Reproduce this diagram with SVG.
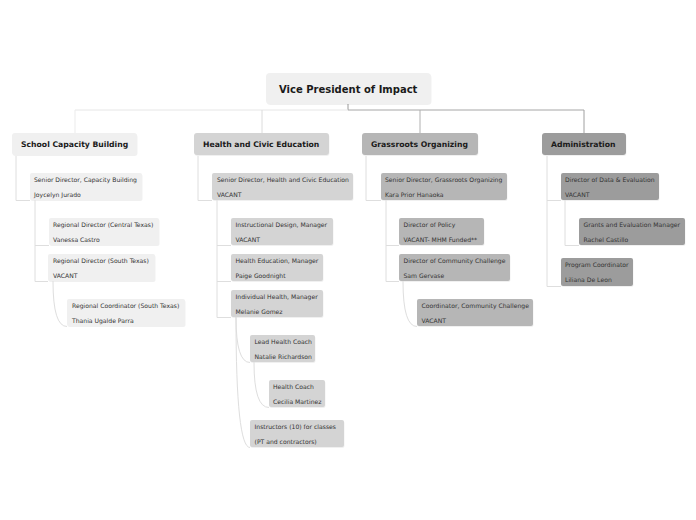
<svg xmlns="http://www.w3.org/2000/svg" width="696" height="520" viewBox="0 0 696 520">
<style>
.t{font-family:"DejaVu Sans","Liberation Sans",sans-serif;font-size:6.1px;fill:#333}
.b{font-family:"DejaVu Sans","Liberation Sans",sans-serif;font-weight:bold;font-size:7.7px;fill:#1a1a1a}
.r{font-family:"DejaVu Sans","Liberation Sans",sans-serif;font-weight:bold;font-size:10px;fill:#1a1a1a}
.c{fill:none;stroke:#dedede;stroke-width:1}
.sh{fill:#000;fill-opacity:0.06}
.l0{fill:#f0f0f0}
.l1{fill:#d4d4d4}
.l2{fill:#b6b6b6}
.l3{fill:#9c9c9c}
</style>
<rect width="696" height="520" fill="#ffffff"/>
<g id="connectors">
<path d="M348,104V110" fill="none" stroke="#9a9a9a"/>
<path d="M75,110H348" fill="none" stroke="#e6e6e6"/>
<path d="M348,110H584" fill="none" stroke="#a6a6a6"/>
<path d="M75,110V133" fill="none" stroke="#ebebeb"/>
<path d="M262,110V133" fill="none" stroke="#dcdcdc"/>
<path d="M420,110V133" fill="none" stroke="#b0b0b0"/>
<path d="M584,110V133" fill="none" stroke="#a0a0a0"/>
<path class="c" d="M16,156V200.5H30"/>
<path class="c" d="M35,200.5V281.5H48M35,245.5H49"/>
<path class="c" d="M53,281.5Q53,326.5 67,326.5"/>
<path class="c" d="M198,156V200.5H212"/>
<path class="c" d="M217,200.5V317.5H231M217,245.5H231M217,281.5H231"/>
<path class="c" d="M236,317.5Q236,362.5 250,362.5"/>
<path class="c" d="M236,317.5Q236,447.5 250,447.5"/>
<path class="c" d="M254,362.5Q254,407.5 269,407.5"/>
<path class="c" d="M366,156V200.5H381"/>
<path class="c" d="M386,200.5V281.5H399M386,245.5H399"/>
<path class="c" d="M403,281.5Q403,326.5 417,326.5"/>
<path class="c" d="M547,156V286.5H561M547,200.5H561"/>
<path class="c" d="M565,200.5V245.5H579"/>
</g>
<g id="root">
<rect class="sh" x="266.5" y="74" width="165" height="31" rx="4"/>
<rect class="l0" x="266" y="73" width="165" height="31" rx="4"/>
<text class="r" x="279" y="92.6">Vice President of Impact</text>
</g>
<g id="school">
<rect class="sh" x="12.5" y="134" width="125" height="22" rx="3"/>
<rect class="l0" x="12" y="133" width="125" height="22" rx="3"/>
<text class="b" x="21" y="146.8">School Capacity Building</text>
</g>
<g id="health">
<rect class="sh" x="194.5" y="134" width="135" height="22" rx="3"/>
<rect class="l1" x="194" y="133" width="135" height="22" rx="3"/>
<text class="b" x="203" y="146.8">Health and Civic Education</text>
</g>
<g id="grassroots">
<rect class="sh" x="362.5" y="134" width="116" height="22" rx="3"/>
<rect class="l2" x="362" y="133" width="116" height="22" rx="3"/>
<text class="b" x="371" y="146.8">Grassroots Organizing</text>
</g>
<g id="admin">
<rect class="sh" x="542.5" y="134" width="84" height="22" rx="3"/>
<rect class="l3" x="542" y="133" width="84" height="22" rx="3"/>
<text class="b" x="551" y="146.8">Administration</text>
</g>
<g id="sd-capacity">
<rect class="sh" x="30.5" y="174" width="112" height="27" rx="2"/>
<rect class="l0" x="30" y="173" width="112" height="27" rx="2"/>
<text class="t" x="34" y="182.3">Senior Director, Capacity Building</text>
<text class="t" x="34" y="196.6">Joycelyn Jurado</text>
</g>
<g id="rd-central">
<rect class="sh" x="49.5" y="219" width="110" height="27" rx="2"/>
<rect class="l0" x="49" y="218" width="110" height="27" rx="2"/>
<text class="t" x="53" y="227.3">Regional Director (Central Texas)</text>
<text class="t" x="53" y="241.6">Vanessa Castro</text>
</g>
<g id="rd-south">
<rect class="sh" x="48.5" y="255" width="107" height="27" rx="2"/>
<rect class="l0" x="48" y="254" width="107" height="27" rx="2"/>
<text class="t" x="53" y="263.3">Regional Director (South Texas)</text>
<text class="t" x="53" y="277.6">VACANT</text>
</g>
<g id="rc-south">
<rect class="sh" x="67.5" y="300" width="118" height="27" rx="2"/>
<rect class="l0" x="67" y="299" width="118" height="27" rx="2"/>
<text class="t" x="72" y="308.3">Regional Coordinator (South Texas)</text>
<text class="t" x="72" y="322.6">Thania Ugalde Parra</text>
</g>
<g id="sd-health">
<rect class="sh" x="212.5" y="174" width="141" height="27" rx="2"/>
<rect class="l1" x="212" y="173" width="141" height="27" rx="2"/>
<text class="t" x="217" y="182.3">Senior Director, Health and Civic Education</text>
<text class="t" x="217" y="196.6">VACANT</text>
</g>
<g id="instructional-design">
<rect class="sh" x="231.5" y="219" width="102" height="27" rx="2"/>
<rect class="l1" x="231" y="218" width="102" height="27" rx="2"/>
<text class="t" x="235.5" y="227.3">Instructional Design, Manager</text>
<text class="t" x="235.5" y="241.6">VACANT</text>
</g>
<g id="health-education">
<rect class="sh" x="231.5" y="255" width="92" height="27" rx="2"/>
<rect class="l1" x="231" y="254" width="92" height="27" rx="2"/>
<text class="t" x="235.5" y="263.3">Health Education, Manager</text>
<text class="t" x="235.5" y="277.6">Paige Goodnight</text>
</g>
<g id="individual-health">
<rect class="sh" x="231.5" y="291" width="92" height="27" rx="2"/>
<rect class="l1" x="231" y="290" width="92" height="27" rx="2"/>
<text class="t" x="235.5" y="299.3">Individual Health, Manager</text>
<text class="t" x="235.5" y="313.6">Melanie Gomez</text>
</g>
<g id="lead-health-coach">
<rect class="sh" x="250.5" y="336" width="65" height="27" rx="2"/>
<rect class="l1" x="250" y="335" width="65" height="27" rx="2"/>
<text class="t" x="254.5" y="344.3">Lead Health Coach</text>
<text class="t" x="254.5" y="358.6">Natalie Richardson</text>
</g>
<g id="health-coach">
<rect class="sh" x="269.5" y="381" width="56" height="27" rx="2"/>
<rect class="l1" x="269" y="380" width="56" height="27" rx="2"/>
<text class="t" x="273" y="389.3">Health Coach</text>
<text class="t" x="273" y="403.6">Cecilia Martinez</text>
</g>
<g id="instructors">
<rect class="sh" x="250.5" y="421" width="94" height="27" rx="2"/>
<rect class="l1" x="250" y="420" width="94" height="27" rx="2"/>
<text class="t" x="254.5" y="429.3">Instructors (10) for classes</text>
<text class="t" x="254.5" y="443.6">(PT and contractors)</text>
</g>
<g id="sd-grassroots">
<rect class="sh" x="381.5" y="174" width="126" height="27" rx="2"/>
<rect class="l2" x="381" y="173" width="126" height="27" rx="2"/>
<text class="t" x="385" y="182.3">Senior Director, Grassroots Organizing</text>
<text class="t" x="385" y="196.6">Kara Prior Hanaoka</text>
</g>
<g id="director-policy">
<rect class="sh" x="399.5" y="219" width="85" height="27" rx="2"/>
<rect class="l2" x="399" y="218" width="85" height="27" rx="2"/>
<text class="t" x="403.5" y="227.3">Director of Policy</text>
<text class="t" x="403.5" y="241.6">VACANT- MHM Funded**</text>
</g>
<g id="director-community">
<rect class="sh" x="399.5" y="255" width="111" height="27" rx="2"/>
<rect class="l2" x="399" y="254" width="111" height="27" rx="2"/>
<text class="t" x="403.5" y="263.3">Director of Community Challenge</text>
<text class="t" x="403.5" y="277.6">Sam Gervase</text>
</g>
<g id="coordinator-community">
<rect class="sh" x="417.5" y="300" width="116" height="27" rx="2"/>
<rect class="l2" x="417" y="299" width="116" height="27" rx="2"/>
<text class="t" x="421.5" y="308.3">Coordinator, Community Challenge</text>
<text class="t" x="421.5" y="322.6">VACANT</text>
</g>
<g id="director-data">
<rect class="sh" x="561.5" y="174" width="98" height="27" rx="2"/>
<rect class="l3" x="561" y="173" width="98" height="27" rx="2"/>
<text class="t" x="565" y="182.3">Director of Data &amp; Evaluation</text>
<text class="t" x="565" y="196.6">VACANT</text>
</g>
<g id="grants-manager">
<rect class="sh" x="579.5" y="219" width="106" height="27" rx="2"/>
<rect class="l3" x="579" y="218" width="106" height="27" rx="2"/>
<text class="t" x="583.5" y="227.3">Grants and Evaluation Manager</text>
<text class="t" x="583.5" y="241.6">Rachel Castillo</text>
</g>
<g id="program-coordinator">
<rect class="sh" x="561.5" y="259" width="72" height="28" rx="2"/>
<rect class="l3" x="561" y="258" width="72" height="28" rx="2"/>
<text class="t" x="565" y="267">Program Coordinator</text>
<text class="t" x="565" y="281.6">Liliana De Leon</text>
</g>
</svg>
